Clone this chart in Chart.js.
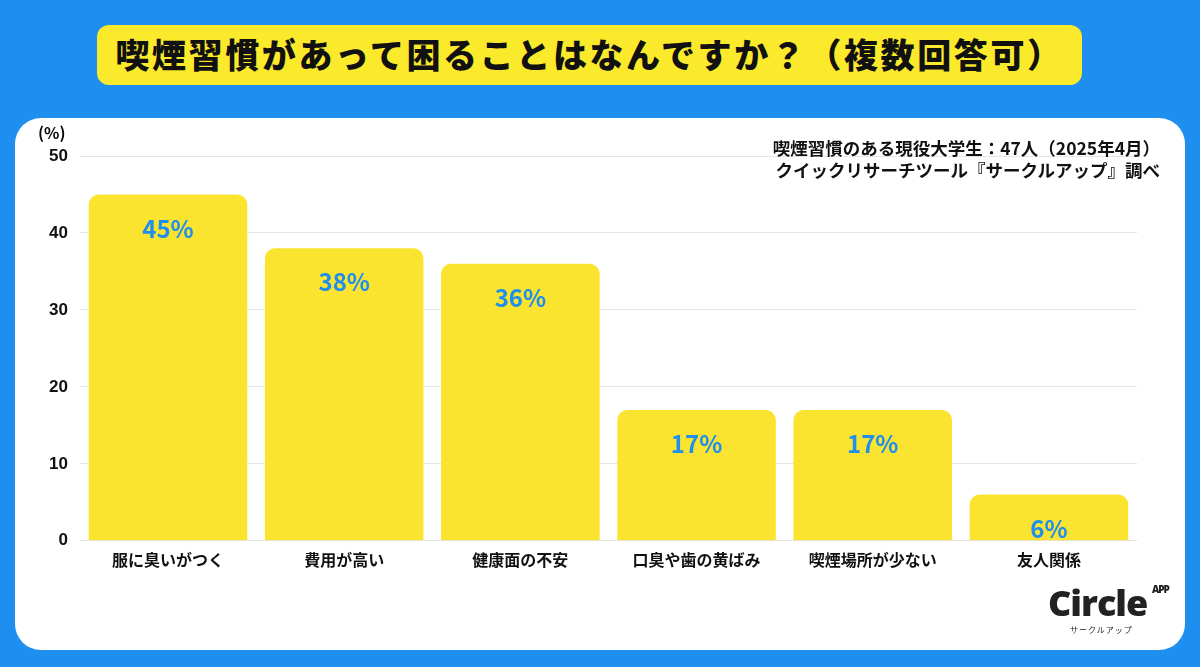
<!DOCTYPE html>
<html><head><meta charset="utf-8">
<script src="https://cdn.jsdelivr.net/npm/chart.js@4"></script>
<style>
body{margin:0;width:1200px;height:667px;background:#1F8FEF;font-family:"Noto Sans CJK JP",sans-serif;position:relative;overflow:hidden}
#title{position:absolute;left:97px;top:25px;width:985px;height:60px;background:#FBE92C;border-radius:12px;font-weight:900;font-size:34px;letter-spacing:2.6px;line-height:58px;text-align:center;color:#111}
#panel{position:absolute;left:15px;top:118px;width:1170px;height:532px;background:#fff;border-radius:26px}
#wrap{position:absolute;left:15px;top:118px;width:1170px;height:462px}
.note{position:absolute;right:40px;font-weight:700;font-size:17.5px;color:#111;text-align:right;line-height:22px}
#logo{position:absolute;left:1048px;top:578px;font-family:"Open Sans";font-weight:800;font-size:36px;color:#222;letter-spacing:-1px}
#logo small{position:absolute;left:104px;top:4px;font-size:10px}
#logo i{position:absolute;left:22px;top:46px;font-style:normal;font-size:8px;font-weight:400;font-family:"Noto Sans CJK JP";letter-spacing:1px;white-space:nowrap}
</style></head><body>
<div id="title">喫煙習慣があって困ることはなんですか？（複数回答可）</div>
<div id="panel"></div>
<div id="wrap"><canvas id="c"></canvas></div>
<div class="note" style="top:137px">喫煙習慣のある現役大学生：47人（2025年4月）<br>クイックリサーチツール『サークルアップ』調べ</div>
<div style="position:absolute;left:38px;top:120px;font-weight:700;font-size:16px">(%)</div>
<div id="logo">Circle<small>APP</small><i>サークルアップ</i></div>
<script>
const categories=["服に臭いがつく","費用が高い","健康面の不安","口臭や歯の黄ばみ","喫煙場所が少ない","友人関係"];
const values=[45,38,36,17,17,6];
const yTicks=[0,10,20,30,40,50];
const lbl={id:'lbl',afterDatasetsDraw(ch){const c=ch.ctx;c.save();c.font='bold 24px "Noto Sans CJK JP"';c.fillStyle='#1F8FEF';c.textAlign='center';c.textBaseline='middle';
ch.getDatasetMeta(0).data.forEach((b,i)=>c.fillText(values[i]+'%',b.x,b.y+34));c.restore();}};
new Chart(document.getElementById('c'),{type:'bar',
data:{labels:categories,datasets:[{data:values,backgroundColor:'#FAE42F',borderRadius:{topLeft:10,topRight:10},borderSkipped:'bottom',barPercentage:0.9,categoryPercentage:1}]},
options:{responsive:true,maintainAspectRatio:false,animation:false,
layout:{padding:{left:22,right:48,top:38,bottom:0}},
plugins:{legend:{display:false},tooltip:{enabled:false}},
scales:{y:{min:0,max:50,afterBuildTicks(a){a.ticks=yTicks.map(v=>({value:v}));},grid:{color:'#e4e4e4',drawTicks:false},border:{display:false},ticks:{color:'#111',font:{size:17,weight:'bold'},padding:12}},
x:{grid:{display:false,drawTicks:false},border:{display:false},ticks:{color:'#111',font:{size:16,weight:'bold',family:'"Noto Sans CJK JP"'},padding:10}}}},
plugins:[lbl]});
</script></body></html>
